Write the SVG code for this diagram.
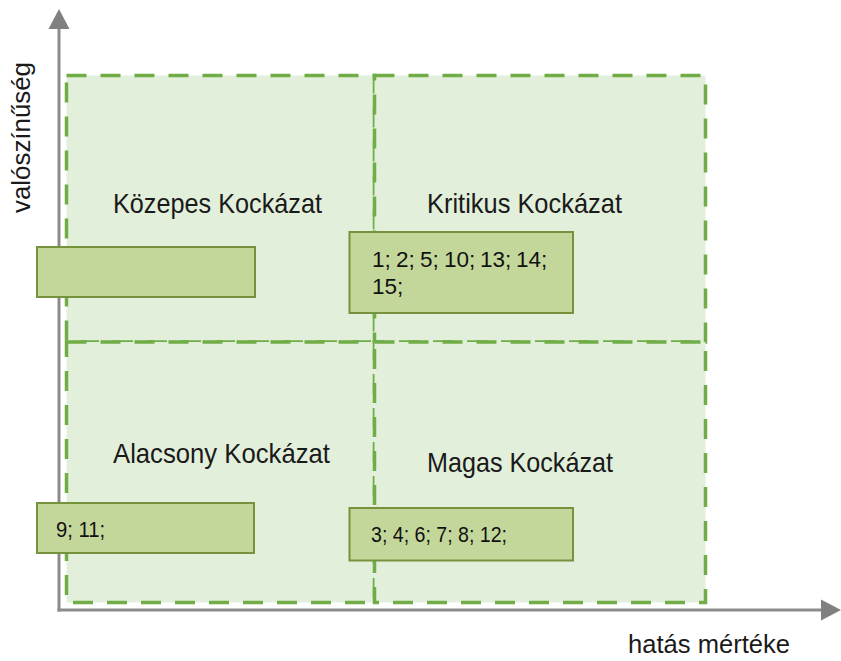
<svg xmlns="http://www.w3.org/2000/svg" width="841" height="661" viewBox="0 0 841 661">
<defs>
<style>
.quad{fill:#e2efda;stroke:#70ad47;stroke-width:3.5;stroke-dasharray:20 14;}
.box{fill:#c4d79b;stroke:#76923c;stroke-width:2;}
.axis{stroke:#8c8c8c;stroke-width:3;fill:none;}
.head{fill:#808080;}
.lbl{font-family:"Liberation Sans",Arial,sans-serif;font-size:28px;fill:#1a1a1a;}
.num{font-family:"Liberation Sans",Arial,sans-serif;font-size:22.5px;fill:#111;white-space:pre;}
.ax{font-family:"Liberation Sans",Arial,sans-serif;font-size:25px;fill:#1a1a1a;}
</style>
</defs>
<rect width="841" height="661" fill="#ffffff"/>
<g id="q-kozepes"><rect class="quad" x="66.5" y="75.5" width="308" height="266.5"/><text class="lbl" x="113" y="213" textLength="209" lengthAdjust="spacingAndGlyphs">Közepes Kockázat</text></g>
<g id="q-kritikus"><rect class="quad" x="374.5" y="75.5" width="331" height="266.5"/><text class="lbl" x="427" y="213" textLength="195" lengthAdjust="spacingAndGlyphs">Kritikus Kockázat</text></g>
<g id="q-alacsony"><rect class="quad" x="66.5" y="342" width="308" height="260.5"/><text class="lbl" x="113" y="463" textLength="217" lengthAdjust="spacingAndGlyphs">Alacsony Kockázat</text></g>
<g id="q-magas"><rect class="quad" x="374.5" y="342" width="331" height="260.5"/><text class="lbl" x="427" y="472" textLength="186" lengthAdjust="spacingAndGlyphs">Magas Kockázat</text></g>
<g id="connectors">
<line class="axis" x1="59" y1="611.5" x2="59" y2="28"/>
<polygon class="head" points="59,9 48.5,29 69.5,29"/>
<line class="axis" x1="57.5" y1="610" x2="822" y2="610"/>
<polygon class="head" points="841,610 821,599.5 821,620.5"/>
</g>
<g id="box-kozepes"><rect class="box" x="37" y="247" width="218" height="50"/></g>
<g id="box-kritikus"><rect class="box" x="349.5" y="232" width="223.5" height="81"/>
<text class="num" x="372" y="267" xml:space="preserve"><tspan x="372">1;</tspan><tspan x="396">2;</tspan><tspan x="420">5;</tspan><tspan x="444">10;</tspan><tspan x="480">13;</tspan><tspan x="516">14;</tspan></text>
<text class="num" x="372" y="294">15;</text></g>
<g id="box-alacsony"><rect class="box" x="37" y="503" width="217" height="50"/><text class="num" x="56" y="537" textLength="49" lengthAdjust="spacingAndGlyphs">9; 11;</text></g>
<g id="box-magas"><rect class="box" x="349.5" y="508" width="223.5" height="52.5"/><text class="num" x="371" y="542" textLength="136" lengthAdjust="spacingAndGlyphs">3; 4; 6; 7; 8; 12;</text></g>
<g id="axis-labels">
<text class="ax" transform="translate(30,213) rotate(-90)" textLength="151" lengthAdjust="spacingAndGlyphs">valószínűség</text>
<text class="ax" x="628" y="653" textLength="162" lengthAdjust="spacingAndGlyphs">hatás mértéke</text>
</g>
</svg>
